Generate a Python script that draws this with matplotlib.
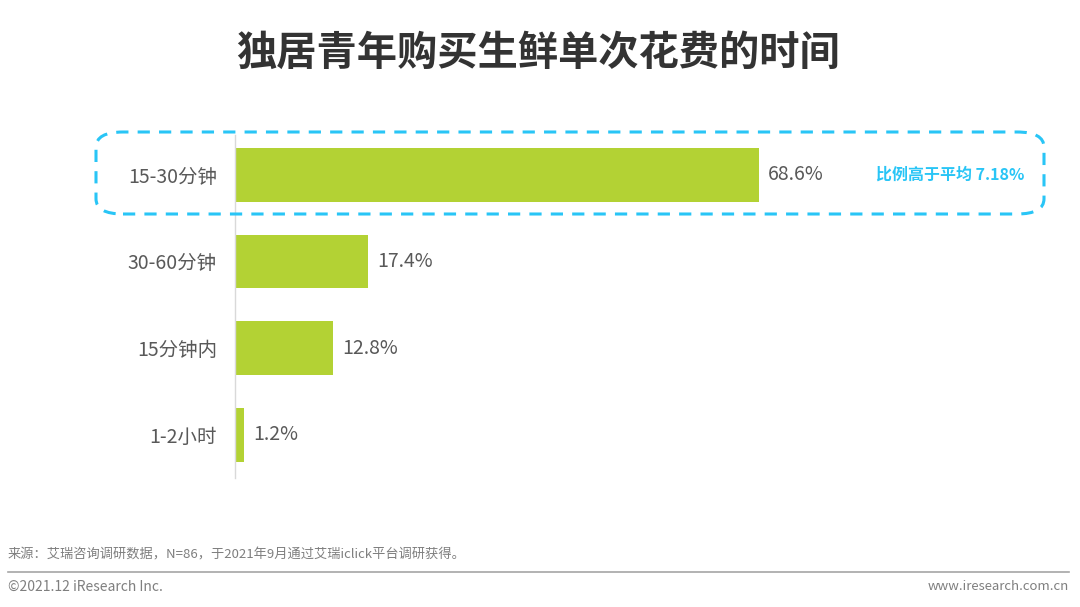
import matplotlib
matplotlib.use("Agg")
import matplotlib.pyplot as plt
from matplotlib.patches import FancyBboxPatch

plt.rcParams['font.family'] = ['Noto Sans CJK SC', 'DejaVu Sans']

categories = ["15-30分钟", "30-60分钟", "15分钟内", "1-2小时"]
values = [68.6, 17.4, 12.8, 1.2]
value_labels = ["68.6%", "17.4%", "12.8%", "1.2%"]
title = "独居青年购买生鲜单次花费的时间"
note = "比例高于平均 7.18%"
source = "来源：艾瑞咨询调研数据，N=86，于2021年9月通过艾瑞iclick平台调研获得。"
footer_left = "©2021.12 iResearch Inc."
footer_right = "www.iresearch.com.cn"

W, H = 1080, 607
fig = plt.figure(figsize=(W / 100, H / 100), dpi=100)
fig.patch.set_facecolor("white")

def fx(px):
    return px / W

def fy(py):
    return 1 - py / H

ax = fig.add_axes([fx(235), fy(478), fx(764), fy(135) - fy(478)])
ypos = list(range(len(categories)))
ax.barh(ypos, values, height=0.62, color="#B3D234", zorder=2)
ax.set_xlim(0, 100)
ax.set_ylim(3.5, -0.46)
for s in ["top", "right", "bottom"]:
    ax.spines[s].set_visible(False)
ax.spines["left"].set_color("#D9D9D9")
ax.spines["left"].set_linewidth(1.0)
ax.set_xticks([])
ax.set_yticks(ypos)
ax.set_yticklabels(categories, fontsize=14, color="#595959")
ax.tick_params(axis="y", length=0, pad=13)
for y, v, lab in zip(ypos, values, value_labels):
    ax.text(v + 1.2, y, lab, va="center", ha="left", fontsize=14, color="#595959")

# Dashed highlight box
box = FancyBboxPatch((fx(96), fy(214)), fx(1044) - fx(96), fy(132) - fy(214),
                     boxstyle="round,pad=0,rounding_size=0.025",
                     transform=fig.transFigure, fill=False,
                     edgecolor="#29C5F6", linewidth=2.2,
                     linestyle=(0, (4, 3)), zorder=5)
fig.patches.append(box)
fig.text(fx(1024), fy(175), note, ha="right", va="center", fontsize=11.5,
         fontweight="bold", color="#29C5F6")

fig.text(fx(538), fy(53), title, ha="center", va="center", fontsize=29,
         fontweight="bold", color="#333333")

fig.text(fx(8), fy(555), source, ha="left", va="center", fontsize=9.5, color="#7F7F7F")
fig.add_artist(plt.Line2D([fx(8), fx(1069)], [fy(572), fy(572)],
                          transform=fig.transFigure, color="#A6A6A6", linewidth=1.2))
fig.text(fx(8), fy(587), footer_left, ha="left", va="center", fontsize=10, color="#7F7F7F")
fig.text(fx(1069), fy(587), footer_right, ha="right", va="center", fontsize=9.5, color="#7F7F7F")

fig.savefig("out.png", dpi=100, facecolor="white")
